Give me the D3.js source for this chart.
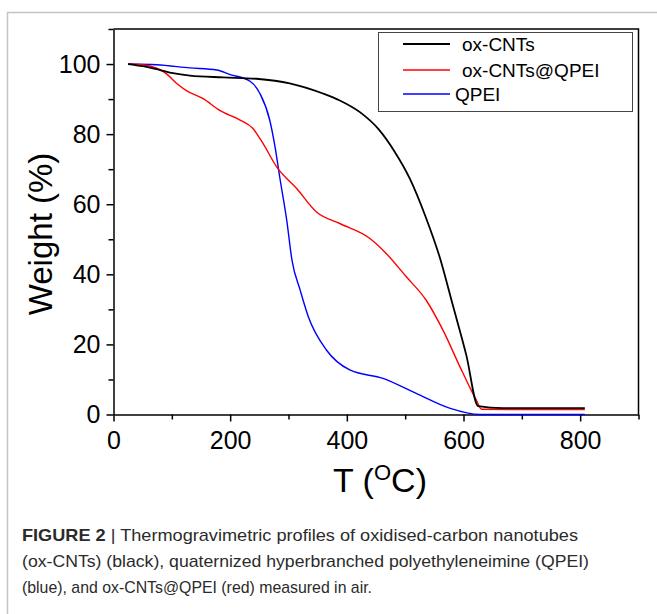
<!DOCTYPE html>
<html>
<head>
<meta charset="utf-8">
<script src="https://cdn.jsdelivr.net/npm/d3@7"></script>
<style>
  body { margin: 0; background: #fff; }
  svg { display: block; font-family: "Liberation Sans", Arial, sans-serif; }
</style>
</head>
<body>
<svg id="chart" width="657" height="614"></svg>
<script>
// TGA curves (T in degC, weight in %)
var cntT = [25, 50, 80, 102, 131, 188, 245, 302, 359, 388, 423, 455, 482, 508, 536, 559, 582, 605, 625, 667, 808];
var cntW = [100, 99.4, 98.3, 97.4, 96.7, 96.2, 95.8, 94.5, 91.6, 89.6, 86.2, 81.3, 75, 67.3, 56, 45, 31, 16.8, 2.4, 1.8, 1.8];

var hybT = [25, 50, 74, 91, 108, 125, 153, 182, 217, 239, 256, 280, 314, 348, 388, 439, 462, 502, 536, 565, 594, 622, 631, 700, 808];
var hybW = [100, 99.8, 98.8, 97.2, 94.5, 92.4, 90.2, 86.8, 84, 81.6, 77.4, 70.6, 64.5, 57.8, 54.5, 50.3, 46.9, 39.3, 32.6, 24, 13.6, 4.1, 1.5, 1.4, 1.4];

var qpeiT = [25, 74, 131, 177, 200, 234, 251, 268, 277, 285, 297, 306, 320, 334, 365, 405, 462, 519, 576, 628, 700, 808];
var qpeiW = [100, 99.8, 98.9, 98.3, 97, 95.1, 91.6, 83.9, 76.3, 67.7, 55.4, 44, 35.5, 27.9, 18.4, 12.7, 10.3, 6, 1.8, 0, 0, 0];

var seriesNames = ['ox-CNTs', 'ox-CNTs@QPEI', 'QPEI'];
var seriesColors = ['#000000', '#ff0000', '#0000ff'];

var xMajor = [0, 200, 400, 600, 800];
var xMinor = [100, 300, 500, 700, 900];
var yMajor = [0, 20, 40, 60, 80, 100];
var yMinor = [10, 30, 50, 70, 90, 110];

var captionLines = [
    ' | Thermogravimetric profiles of oxidised-carbon nanotubes',
    '(ox-CNTs) (black), quaternized hyperbranched polyethyleneimine (QPEI)',
    '(blue), and ox-CNTs@QPEI (red) measured in air.'
];

(function () {

    var svg = d3.select('#chart');

    var pLeft = 113.5, pRight = 638.5, pTop = 29, pBottom = 414.5;

    var x = d3.scaleLinear().domain([0, 900]).range([pLeft, pRight]);
    var y = d3.scaleLinear().domain([0, 110]).range([pBottom, pTop]);

    // light grey figure border (left + top)
    svg.append('path')
        .attr('d', 'M7.5,700 L7.5,12.5 L700,12.5')
        .attr('fill', 'none')
        .attr('stroke', '#c4c4c4')
        .attr('stroke-width', 1.5);

    // frame top / right
    svg.append('path')
        .attr('d', 'M' + pLeft + ',' + pTop + ' L' + pRight + ',' + pTop + ' L' + pRight + ',' + pBottom)
        .attr('fill', 'none')
        .attr('stroke', '#000')
        .attr('stroke-width', 1.5);

    // minor ticks
    svg.append('g')
        .attr('transform', 'translate(0,' + pBottom + ')')
        .call(d3.axisBottom(x).tickValues(xMinor).tickSize(5).tickFormat(''))
        .call(function (g) { g.select('.domain').remove(); });

    svg.append('g')
        .attr('transform', 'translate(' + pLeft + ',0)')
        .call(d3.axisLeft(y).tickValues(yMinor).tickSize(5).tickFormat(''))
        .call(function (g) { g.select('.domain').remove(); });

    // major axes
    svg.append('g')
        .attr('transform', 'translate(0,' + pBottom + ')')
        .call(d3.axisBottom(x).tickValues(xMajor).tickSize(7).tickPadding(10).tickSizeOuter(0));

    svg.append('g')
        .attr('transform', 'translate(' + pLeft + ',0)')
        .call(d3.axisLeft(y).tickValues(yMajor).tickSize(7).tickPadding(6).tickSizeOuter(0));

    svg.selectAll('.tick line').attr('stroke-width', 1.5);
    svg.selectAll('.domain').attr('stroke-width', 1.5);
    svg.selectAll('.tick text')
        .attr('font-family', '"Liberation Sans", Arial, sans-serif')
        .attr('font-size', 25)
        .attr('fill', '#000');

    // axis titles
    svg.append('text')
        .attr('transform', 'translate(52,234) rotate(-90)')
        .attr('text-anchor', 'middle')
        .attr('font-size', 33)
        .text('Weight (%)');

    var xt = svg.append('text')
        .attr('x', 380)
        .attr('y', 492)
        .attr('text-anchor', 'middle')
        .attr('font-size', 34);
    xt.append('tspan').text('T (');
    xt.append('tspan').attr('font-size', 22).attr('dy', -12).text('O');
    xt.append('tspan').attr('dy', 12).text('C)');

    // curves
    var line = d3.line()
        .x(function (d) { return x(d[0]); })
        .y(function (d) { return y(d[1]); })
        .curve(d3.curveMonotoneX);

    var series = [
        d3.zip(cntT, cntW),
        d3.zip(hybT, hybW),
        d3.zip(qpeiT, qpeiW)
    ];

    // blue first, then red, black on top
    [2, 1, 0].forEach(function (i) {
        svg.append('path')
            .datum(series[i])
            .attr('d', line)
            .attr('fill', 'none')
            .attr('stroke', seriesColors[i])
            .attr('stroke-width', i === 0 ? 1.8 : 1.4)
            .attr('stroke-linejoin', 'round');
    });

    // legend
    svg.append('rect')
        .attr('x', 378.5)
        .attr('y', 32.5)
        .attr('width', 254)
        .attr('height', 79)
        .attr('fill', '#fff')
        .attr('stroke', '#444')
        .attr('stroke-width', 1);

    var legendY = [44, 70, 94];
    var legendTextX = [462, 462, 455];

    seriesNames.forEach(function (name, i) {
        svg.append('line')
            .attr('x1', 403).attr('x2', 450)
            .attr('y1', legendY[i]).attr('y2', legendY[i])
            .attr('stroke', seriesColors[i])
            .attr('stroke-width', i === 0 ? 1.8 : 1.4);
        svg.append('text')
            .attr('x', legendTextX[i])
            .attr('y', legendY[i] + 7)
            .attr('font-size', 19)
            .text(name);
    });

    // caption
    var capY = [541, 567, 593];
    var capLen = [556, 567, 350];

    captionLines.forEach(function (txt, i) {
        var t = svg.append('text')
            .attr('x', 22)
            .attr('y', capY[i])
            .attr('font-size', 17)
            .attr('fill', '#2b2b2b')
            .attr('textLength', capLen[i])
            .attr('lengthAdjust', 'spacingAndGlyphs');
        if (i === 0) {
            t.append('tspan').attr('font-weight', 'bold').text('FIGURE 2');
        }
        t.append('tspan').text(txt);
    });

})();
</script>
</body>
</html>
